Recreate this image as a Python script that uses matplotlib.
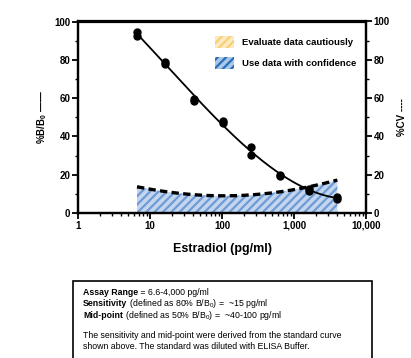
import numpy as np
import matplotlib
matplotlib.use("Agg")
import matplotlib.pyplot as plt
from matplotlib.patches import Patch, Rectangle

plt.rcParams['font.family'] = ['Liberation Sans', 'DejaVu Sans']
plt.rcParams['mathtext.fontset'] = 'custom'
plt.rcParams['mathtext.rm'] = 'Liberation Sans'
plt.rcParams['mathtext.bf'] = 'Liberation Sans:bold'
plt.rcParams['mathtext.it'] = 'Liberation Sans:italic'
plt.rcParams['hatch.linewidth'] = 1.6

# data
conc = [6.6, 6.6, 16.4, 16.4, 41, 41, 102.4, 102.4, 256, 256, 640, 640, 1600, 1600, 4000, 4000]
bb0 = [94.5, 92.5, 79, 78, 59.5, 58.5, 48, 47, 34.5, 30.5, 20, 19.5, 12.5, 11.5, 8.5, 7.5]
cv_conc = [6.6, 16.4, 41, 102.4, 256, 640, 1600, 4000]
cv = [13.7, 11.2, 9.5, 9.0, 9.5, 11.0, 13.7, 17.2]
xticks = [1, 10, 100, 1000, 10000]
xticklabels = ['1', '10', '100', '1,000', '10,000']
yticks = [0, 20, 40, 60, 80, 100]
legend_labels = ['Evaluate data cautiously', 'Use data with confidence']

fig = plt.figure(figsize=(4.11, 3.58), dpi=100)
ax = fig.add_axes([78/411, 1-213/358, 288/411, 191.5/358])

lx = np.log10(conc)
p = np.polyfit(lx, bb0, 3)
xs = np.logspace(np.log10(min(conc)), np.log10(max(conc)), 200)
ax.plot(xs, np.polyval(p, np.log10(xs)), color='black', lw=1.3, zorder=4)
ax.plot(conc, bb0, 'o', color='black', ms=5, zorder=5)

pc = np.polyfit(np.log10(cv_conc), cv, 4)
cvs = np.polyval(pc, np.log10(xs))
ax.fill_between(xs, 0, cvs, facecolor='#c3d6ee', edgecolor='#6e9bd6', hatch='////', lw=0, zorder=2)
ax.plot(xs, cvs, color='black', lw=2.4, dashes=(2.2, 1.3), zorder=3)

ax.set_xscale('log')
ax.set_xlim(1, 10000)
ax.set_ylim(0, 100)
ax.set_xticks(xticks)
ax.set_xticklabels(xticklabels)
ax.set_yticks(yticks)
ax.set_yticks(np.arange(10, 100, 20), minor=True)
for s in ax.spines.values():
    s.set_linewidth(1.6)
ax.tick_params(which='major', length=4, width=1.3, labelsize=7, pad=1.5)
ax.tick_params(which='minor', length=2.2, width=1.0)
for lab in ax.get_xticklabels() + ax.get_yticklabels():
    lab.set_fontweight('bold')

ax2 = ax.twinx()
ax2.set_ylim(0, 100)
ax2.set_yticks(yticks)
ax2.set_yticks(np.arange(10, 100, 20), minor=True)
ax2.tick_params(which='major', length=4, width=1.3, labelsize=7, pad=1.5)
ax2.tick_params(which='minor', length=2.2, width=1.0)
for lab in ax2.get_yticklabels():
    lab.set_fontweight('bold')
for s in ax2.spines.values():
    s.set_linewidth(1.6)

ax.set_xlabel('Estradiol (pg/ml)', fontsize=9, fontweight='bold', labelpad=9)
ax.set_ylabel(r'%B/B$_\mathbf{0}$ ——', fontsize=7, fontweight='bold', labelpad=4)
ax2.set_ylabel('%CV ----', fontsize=7, fontweight='bold', labelpad=5)

handles = [Patch(facecolor='#fdeac0', edgecolor='#f8cf78', hatch='////', lw=0),
           Patch(facecolor='#a9c8e8', edgecolor='#2a6fbb', hatch='////', lw=0)]
leg = ax.legend(handles, legend_labels,
                loc='upper left', bbox_to_anchor=(0.445, 0.97), frameon=False,
                handlelength=2.0, handleheight=1.65, handletextpad=0.85, labelspacing=0.9,
                prop={'size': 6.8, 'weight': 'bold'})

# info box
fig.patches.append(Rectangle((73/411, -0.1), 299/411, 0.1 + (358-281)/358,
                             transform=fig.transFigure, fill=False, lw=1.2, edgecolor='black'))
tx = 83/411
fs = 6.3
renderer = fig.canvas.get_renderer()

def mixed(y, parts):
    x = tx
    for txt, bold in parts:
        t = fig.text(x, 1 - y/358, txt, fontsize=fs, va='center',
                     fontweight='bold' if bold else 'normal')
        bb = t.get_window_extent(renderer=renderer)
        x = bb.x1 / fig.bbox.width

mixed(292.5, [('Assay Range', True), (' = 6.6-4,000 pg/ml', False)])
mixed(304, [('Sensitivity', True), (r' (defined as 80% B/B$_0$) =  ~15 pg/ml', False)])
mixed(316, [('Mid-point', True), (r' (defined as 50% B/B$_0$) =  ~40-100 pg/ml', False)])
fig.text(tx, 1-335.5/358, 'The sensitivity and mid-point were derived from the standard curve', fontsize=fs, va='center')
fig.text(tx, 1-346.5/358, 'shown above. The standard was diluted with ELISA Buffer.', fontsize=fs, va='center')

fig.savefig('out.png', dpi=100)
